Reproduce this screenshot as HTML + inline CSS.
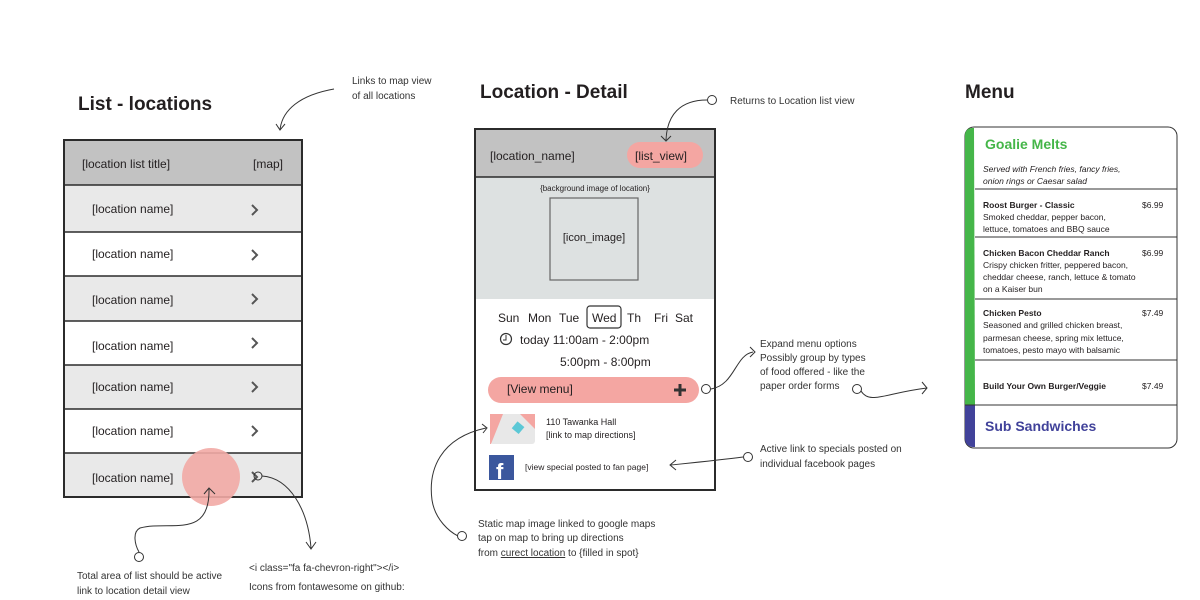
<!DOCTYPE html>
<html><head><meta charset="utf-8"><style>
body{margin:0;width:1200px;height:600px;background:#fff;overflow:hidden}
svg{display:block}
.t{font-family:"Liberation Sans",sans-serif}
.h{font-family:"Liberation Sans",sans-serif;font-weight:bold;fill:#231f20}
.n{font-family:"Liberation Sans",sans-serif;font-size:12px;fill:#231f20}
.a{font-family:"Liberation Sans Narrow","Liberation Sans",sans-serif;font-size:10px;fill:#333}
.m{font-family:"Liberation Sans",sans-serif;font-size:8.5px;fill:#231f20}
.ln{fill:none;stroke:#333;stroke-width:1}
</style></head><body>
<svg width="1200" height="600" viewBox="0 0 1200 600" xmlns="http://www.w3.org/2000/svg">
<!-- titles -->
<text x="78" y="110" class="h" font-size="19">List - locations</text>
<text x="480" y="98" class="h" font-size="19">Location - Detail</text>
<text x="965" y="98" class="h" font-size="19">Menu</text>

<!-- LIST -->
<rect x="64" y="140" width="238" height="45" fill="#c2c2c2"/>
<rect x="64" y="185" width="238" height="47" fill="#e9e9e9"/>
<rect x="64" y="232" width="238" height="44" fill="#fff"/>
<rect x="64" y="276" width="238" height="45" fill="#e9e9e9"/>
<rect x="64" y="321" width="238" height="44" fill="#fff"/>
<rect x="64" y="365" width="238" height="44" fill="#e9e9e9"/>
<rect x="64" y="409" width="238" height="44" fill="#fff"/>
<rect x="64" y="453" width="238" height="44" fill="#e9e9e9"/>
<g stroke="#2b2b2b" stroke-width="1.5">
<line x1="64" y1="185" x2="302" y2="185"/><line x1="64" y1="232" x2="302" y2="232"/><line x1="64" y1="276" x2="302" y2="276"/><line x1="64" y1="321" x2="302" y2="321"/><line x1="64" y1="365" x2="302" y2="365"/><line x1="64" y1="409" x2="302" y2="409"/><line x1="64" y1="453" x2="302" y2="453"/>
</g>
<rect x="64" y="140" width="238" height="357" fill="none" stroke="#2b2b2b" stroke-width="2"/>
<text x="82" y="168" class="n">[location list title]</text>
<text x="253" y="168" class="n">[map]</text>
<g class="n">
<text x="92" y="213">[location name]</text><text x="92" y="258">[location name]</text><text x="92" y="304">[location name]</text><text x="92" y="350">[location name]</text><text x="92" y="391">[location name]</text><text x="92" y="435">[location name]</text><text x="92" y="482">[location name]</text>
</g>
<g fill="none" stroke="#555" stroke-width="2">
<polyline points="252,205 257,210 252,215"/><polyline points="252,250 257,255 252,260"/><polyline points="252,294 257,299 252,304"/><polyline points="252,338 257,343 252,348"/><polyline points="252,382 257,387 252,392"/><polyline points="252,426 257,431 252,436"/><polyline points="252,472 257,477 252,482"/>
</g>
<circle cx="211" cy="477" r="29" fill="#f2aaa5" opacity="0.9"/>
<circle cx="258" cy="476" r="4" fill="none" stroke="#333"/>
<!-- list annotations -->
<text x="352" y="84" class="a">Links to map view</text>
<text x="352" y="99" class="a">of all locations</text>
<path class="ln" d="M334,89 C300,95 282,110 280,130"/><polyline class="ln" points="276,124 280,130 285,124"/>
<path class="ln" d="M262,476 C290,478 308,510 311,548"/><polyline class="ln" points="306,542 311,549 316,542"/>
<path class="ln" d="M209,489 C210,540 170,520 140,528 C132,532 135,545 139,552"/><polyline class="ln" points="204,494 209,488 215,494"/>
<circle cx="139" cy="557" r="4.5" fill="#fff" stroke="#333"/>
<text x="77" y="579" class="a">Total area of list should be active</text>
<text x="77" y="594" class="a">link to location detail view</text>
<text x="249" y="571" class="a">&lt;i class="fa fa-chevron-right"&gt;&lt;/i&gt;</text>
<text x="249" y="590" class="a">Icons from fontawesome on github:</text>

<!-- DETAIL -->
<rect x="475" y="129" width="240" height="48" fill="#c2c2c2"/>
<rect x="475" y="177" width="240" height="122" fill="#dde1e1"/>
<line x1="475" y1="177" x2="715" y2="177" stroke="#2b2b2b" stroke-width="1.5"/>
<rect x="475" y="129" width="240" height="361" fill="none" stroke="#2b2b2b" stroke-width="2"/>
<text x="490" y="160" class="n">[location_name]</text>
<rect x="627" y="142" width="76" height="26" rx="13" fill="#f4a6a2"/>
<text x="635" y="160" class="n">[list_view]</text>
<text x="595" y="191" class="t" font-size="8" text-anchor="middle" fill="#231f20">{background image of location}</text>
<rect x="550" y="198" width="88" height="82" fill="none" stroke="#666" stroke-width="1.2"/>
<text x="594" y="241" class="t" font-size="11" text-anchor="middle" fill="#231f20">[icon_image]</text>
<g class="n"><text x="498" y="322">Sun</text><text x="528" y="322">Mon</text><text x="559" y="322">Tue</text><text x="592" y="322">Wed</text><text x="627" y="322">Th</text><text x="654" y="322">Fri</text><text x="675" y="322">Sat</text></g>
<rect x="587" y="306" width="34" height="22" rx="3" fill="none" stroke="#333" stroke-width="1.2"/>
<circle cx="506" cy="339" r="5.5" fill="none" stroke="#333" stroke-width="1.2"/><polyline points="506,335 506,340 503,340" fill="none" stroke="#333"/>
<text x="520" y="344" class="n">today 11:00am - 2:00pm</text>
<text x="560" y="366" class="n">5:00pm - 8:00pm</text>
<rect x="488" y="377" width="211" height="26" rx="13" fill="#f4a6a2"/>
<text x="507" y="393" class="n">[View menu]</text>
<path d="M680,384 v12 M674,390 h12" stroke="#333" stroke-width="3"/>
<rect x="490" y="414" width="45" height="30" rx="3" fill="#e8e8e8"/>
<path d="M490,414 h13 l-12,30 h-1 z" fill="#f4a6a2"/><path d="M520,414 h15 v15 z" fill="#f4a6a2"/>
<rect x="514" y="423" width="9" height="9" fill="#5cc8d6" transform="rotate(40 518 427)"/>
<text x="546" y="425" class="t" font-size="9" fill="#231f20">110 Tawanka Hall</text>
<text x="546" y="438" class="t" font-size="9" fill="#231f20">[link to map directions]</text>
<rect x="489" y="455" width="25" height="25" fill="#3b579d"/>
<text x="496" y="479" class="t" font-size="22" font-weight="bold" fill="#fff">f</text>
<text x="525" y="470" class="t" font-size="8.5" fill="#231f20">[view  special posted to fan page]</text>
<!-- detail annotations -->
<circle cx="712" cy="100" r="4.5" fill="#fff" stroke="#333"/>
<path class="ln" d="M707,100 C680,100 667,115 666,140"/><polyline class="ln" points="661,136 666,141 671,136"/>
<text x="730" y="104" class="a">Returns to Location list view</text>
<circle cx="706" cy="389" r="4.5" fill="#fff" stroke="#333"/>
<path class="ln" d="M711,389 C735,385 735,355 753,352"/><polyline class="ln" points="750,347 755,352 750,357"/>
<text x="760" y="347" class="a">Expand menu options</text>
<text x="760" y="361" class="a">Possibly group by types</text>
<text x="760" y="375" class="a">of food offered - like the</text>
<text x="760" y="389" class="a">paper order forms</text>
<circle cx="857" cy="389" r="4.5" fill="#fff" stroke="#333"/>
<path class="ln" d="M861,391 C870,405 885,393 927,388"/><polyline class="ln" points="922,382 927,388 922,394"/>
<circle cx="748" cy="457" r="4.5" fill="#fff" stroke="#333"/>
<path class="ln" d="M743,457 C720,460 700,462 671,465"/><polyline class="ln" points="676,460 670,465 676,470"/>
<text x="760" y="452" class="a">Active link to specials posted on</text>
<text x="760" y="467" class="a">individual facebook pages</text>
<path class="ln" d="M486,428 C440,438 428,470 432,500 C435,520 450,532 458,536"/><polyline class="ln" points="482,424 487,428 483,433"/>
<circle cx="462" cy="536" r="4.5" fill="#fff" stroke="#333"/>
<text x="478" y="527" class="a">Static map image linked to google maps</text>
<text x="478" y="541" class="a">tap on map to bring up directions</text>
<text x="478" y="556" class="a">from <tspan text-decoration="underline">curect location</tspan> to {filled in spot}</text>

<!-- MENU -->
<rect x="965" y="127" width="212" height="321" rx="9" fill="#fff" stroke="#333" stroke-width="1"/>
<path d="M974,128 h-2 a7,7 0 0 0 -7,7 v270 h10 z" fill="#45b649"/>
<path d="M965,405 h10 v42 h-2 a8,8 0 0 1 -8,-8 z" fill="#41429a"/>
<g stroke="#333" stroke-width="1"><line x1="975" y1="189" x2="1177" y2="189"/><line x1="975" y1="237" x2="1177" y2="237"/><line x1="975" y1="299" x2="1177" y2="299"/><line x1="975" y1="360" x2="1177" y2="360"/><line x1="965" y1="405" x2="1177" y2="405"/></g>
<text x="985" y="149" class="t" font-size="14" font-weight="bold" fill="#45b649">Goalie Melts</text>
<text x="983" y="172" class="m" font-style="italic">Served with French fries, fancy fries,</text>
<text x="983" y="184" class="m" font-style="italic">onion rings  or Caesar salad</text>
<text x="983" y="208" class="m" font-weight="bold">Roost Burger - Classic</text><text x="1142" y="208" class="m">$6.99</text>
<text x="983" y="220" class="m">Smoked cheddar, pepper bacon,</text>
<text x="983" y="232" class="m">lettuce, tomatoes and BBQ sauce</text>
<text x="983" y="256" class="m" font-weight="bold">Chicken Bacon Cheddar Ranch</text><text x="1142" y="256" class="m">$6.99</text>
<text x="983" y="268" class="m">Crispy chicken fritter, peppered bacon,</text>
<text x="983" y="280" class="m">cheddar cheese, ranch, lettuce &amp; tomato</text>
<text x="983" y="292" class="m">on a Kaiser bun</text>
<text x="983" y="316" class="m" font-weight="bold">Chicken Pesto</text><text x="1142" y="316" class="m">$7.49</text>
<text x="983" y="328" class="m">Seasoned and grilled chicken breast,</text>
<text x="983" y="341" class="m">parmesan cheese, spring mix lettuce,</text>
<text x="983" y="353" class="m">tomatoes, pesto mayo with balsamic</text>
<text x="983" y="389" class="m" font-weight="bold">Build Your Own Burger/Veggie</text><text x="1142" y="389" class="m">$7.49</text>
<text x="985" y="431" class="t" font-size="14" font-weight="bold" fill="#41429a">Sub Sandwiches</text>
</svg>
</body></html>
